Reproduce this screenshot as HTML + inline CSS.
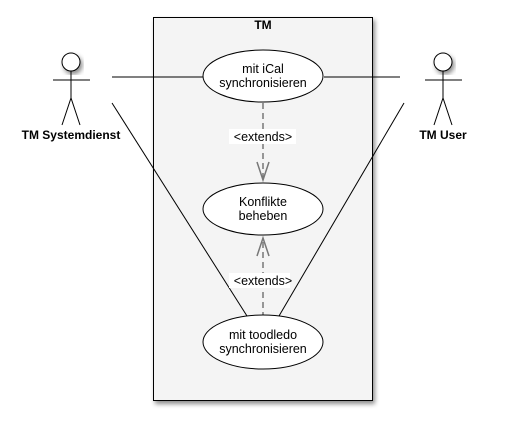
<!DOCTYPE html>
<html><head><style>body{margin:0;background:#fff;}svg{display:block;font-family:"Liberation Sans",Arial,sans-serif;}</style></head>
<body>
<svg width="513" height="425" viewBox="0 0 513 425">
<defs><filter id="sh" x="-10%" y="-10%" width="130%" height="130%"><feDropShadow dx="2" dy="3" stdDeviation="2.5" flood-opacity="0.45"/></filter></defs>
<rect x="153.5" y="17.5" width="219" height="383" fill="#f4f4f4" stroke="#000" stroke-width="1" filter="url(#sh)"/>
<text x="263" y="29" font-size="12" font-weight="bold" text-anchor="middle">TM</text>
<g stroke="#000" stroke-width="1" fill="none">
<line x1="112" y1="77" x2="203" y2="77"/>
<line x1="324" y1="77" x2="400" y2="77"/>
<line x1="112" y1="103" x2="247" y2="316"/>
<line x1="404" y1="103" x2="279" y2="316"/>
</g>
<g stroke="#777" stroke-width="1.5" fill="none">
<line x1="263" y1="103" x2="263" y2="179" stroke-dasharray="6,4"/>
<polyline points="257,162 263,180 269,162"/>
<line x1="263" y1="242" x2="263" y2="315" stroke-dasharray="6,4"/>
<polyline points="257,256 263,238 269,256"/>
</g>
<rect x="229" y="129" width="67" height="15" fill="#fff"/>
<text x="263" y="141" font-size="12.5" text-anchor="middle">&lt;extends&gt;</text>
<rect x="229" y="273" width="61" height="15" fill="#fff"/>
<text x="263" y="285" font-size="12.5" text-anchor="middle">&lt;extends&gt;</text>
<g fill="#fff" stroke="#000" stroke-width="1">
<ellipse cx="263" cy="76" rx="60" ry="26"/>
<ellipse cx="263" cy="209" rx="60" ry="26"/>
<ellipse cx="263" cy="342" rx="60" ry="27"/>
</g>
<g font-size="12.5" text-anchor="middle">
<text x="263" y="73">mit iCal</text><text x="263" y="87">synchronisieren</text>
<text x="263" y="206">Konflikte</text><text x="263" y="220">beheben</text>
<text x="263" y="339">mit toodledo</text><text x="263" y="353">synchronisieren</text>
</g>
<g stroke="#000" stroke-width="1" fill="#fff">
<circle cx="71" cy="62" r="9" filter="url(#sh)"/>
<line x1="53" y1="80" x2="90" y2="80"/><line x1="71" y1="71" x2="71" y2="98"/>
<polyline points="62,125 71,98 80,125" fill="none"/>
<circle cx="443" cy="62" r="9" filter="url(#sh)"/>
<line x1="425" y1="80" x2="462" y2="80"/><line x1="443" y1="71" x2="443" y2="98"/>
<polyline points="434,125 443,98 452,125" fill="none"/>
</g>
<g font-size="12" font-weight="bold" text-anchor="middle">
<text x="71" y="139">TM Systemdienst</text>
<text x="443" y="139">TM User</text>
</g>
</svg>
</body></html>
